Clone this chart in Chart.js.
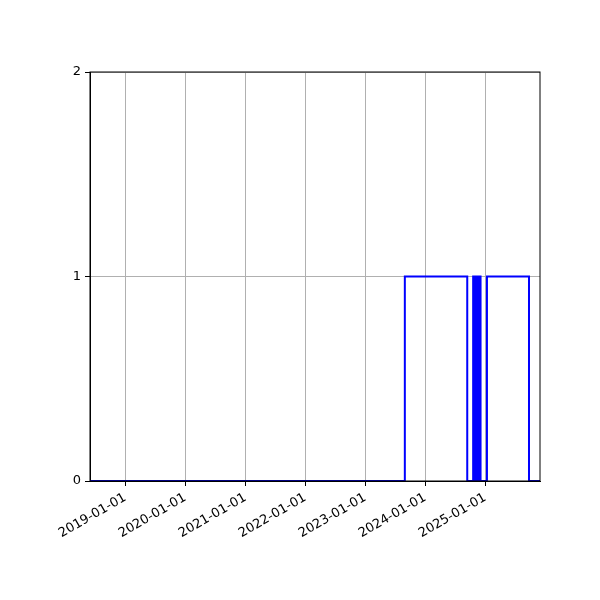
<!DOCTYPE html>
<html>
<head>
<meta charset="utf-8">
<script src="https://cdn.jsdelivr.net/npm/chart.js@4/dist/chart.umd.min.js"></script>
<style>
  html, body { margin: 0; padding: 0; background: #fff; }
  #wrap { width: 600px; height: 600px; }
</style>
</head>
<body>
<div id="wrap"><canvas id="grafica" width="600" height="600"></canvas></div>
<script>
// axis range and ticks
const xStart = '2018-05-31';
const xEnd = '2025-11-30';
const yearTicks = ['2019-01-01', '2020-01-01', '2021-01-01', '2022-01-01', '2023-01-01', '2024-01-01', '2025-01-01'];
const yTicks = [0, 1, 2];

// state changes: value holds from this date until the next one
const changeDates = [
  '2018-05-31', '2023-08-30', '2024-09-13',
  '2024-10-19', '2024-10-24', '2024-10-29', '2024-11-03', '2024-11-08', '2024-11-13',
  '2024-11-18', '2024-11-23', '2024-11-28', '2024-12-03', '2024-12-10',
  '2025-01-11', '2025-09-24', '2025-11-30',
];
const stateValues = [
  0, 1, 0,
  1, 0, 1, 0, 1, 0,
  1, 0, 1, 0, 0,
  1, 0, 0,
];

const toMs = (d) => Date.parse(`${d}T00:00:00Z`);
const pad2 = (n) => String(n).padStart(2, '0');
const fmtDate = (ms) => {
  const d = new Date(ms);
  return `${d.getUTCFullYear()}-${pad2(d.getUTCMonth() + 1)}-${pad2(d.getUTCDate())}`;
};

const puntos = changeDates.map((d, i) => ({ x: toMs(d), y: stateValues[i] }));

// matplotlib-like box around the plot
const frame = {
  id: 'frame',
  afterDraw(chart) {
    const { ctx, chartArea: a } = chart;
    ctx.save();
    ctx.strokeStyle = '#000';
    ctx.lineWidth = 1;
    ctx.strokeRect(a.left, a.top, a.right - a.left, a.bottom - a.top);
    ctx.restore();
  },
};

const fuente = { family: 'DejaVu Sans', size: 13 };

// eslint-disable-next-line no-new, no-undef
new Chart(document.getElementById('grafica'), {
  type: 'line',
  data: {
    datasets: [{
      data: puntos,
      borderColor: '#0000ff',
      borderWidth: 2,
      stepped: true,
      pointRadius: 0,
      fill: false,
    }],
  },
  options: {
    responsive: false,
    devicePixelRatio: 1,
    animation: false,
    layout: { padding: { top: 72, right: 60, left: 0, bottom: 0 } },
    plugins: { legend: { display: false }, tooltip: { enabled: false } },
    scales: {
      x: {
        type: 'linear',
        min: toMs(xStart),
        max: toMs(xEnd),
        afterBuildTicks: (axis) => { axis.ticks = yearTicks.map((d) => ({ value: toMs(d) })); },
        afterFit: (axis) => { axis.height = 119; },
        ticks: {
          color: '#000',
          font: fuente,
          minRotation: 30,
          maxRotation: 30,
          autoSkip: false,
          padding: 4,
          callback: (v) => fmtDate(v),
        },
        grid: { color: '#b0b0b0', lineWidth: 1, tickColor: '#000', tickLength: 5 },
        border: { color: '#000' },
      },
      y: {
        min: 0,
        max: 2,
        afterBuildTicks: (axis) => { axis.ticks = yTicks.map((v) => ({ value: v })); },
        afterFit: (axis) => { axis.width = 90; },
        ticks: { color: '#000', font: fuente, padding: 4 },
        grid: { color: '#b0b0b0', lineWidth: 1, tickColor: '#000', tickLength: 5 },
        border: { color: '#000' },
      },
    },
  },
  plugins: [frame],
});
</script>
</body>
</html>
